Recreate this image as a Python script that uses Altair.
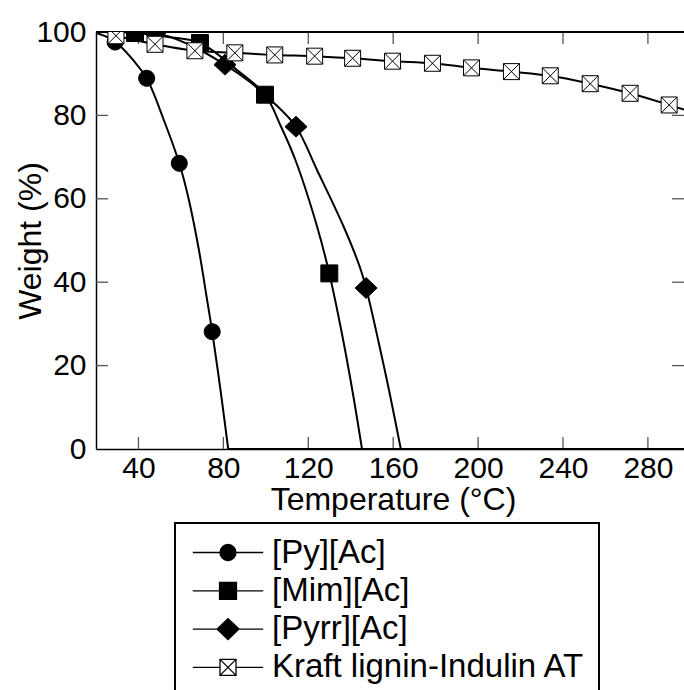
import altair as alt
import pandas as pd

FONT = "Liberation Sans"

series_names = ["[Py][Ac]", "[Mim][Ac]", "[Pyrr][Ac]", "Kraft lignin-Indulin AT"]

# ---- fitted curves ----
py_curve_T = [20, 25.65, 31.31, 37.43, 43.88, 51.94, 59.24, 63.76, 68.48, 72.34, 74.74, 78.65, 82.28]
py_curve_W = [99.76, 98.68, 96.64, 93.29, 88.90, 78.90, 68.51, 59.71, 47.72, 35.73, 28.13, 14.15, 0]

mim_curve_T = [20, 38.37, 53.92, 68.99, 86.42, 99.61, 107.25, 113.94, 124.21, 129.91, 135.52, 140.74, 145.31]
mim_curve_W = [100, 99.76, 98.8, 97.36, 90.89, 84.96, 77.22, 69.30, 53.24, 42.11, 28.54, 14.15, 0]

pyrr_curve_T = [20, 47.79, 64.28, 80.77, 92.55, 103.38, 114.22, 124.11, 136.74, 144.28, 147.24, 153.23, 158.31, 163.59]
pyrr_curve_W = [100, 99.8, 96.88, 92.16, 88.01, 83.21, 77.29, 66.91, 53.24, 43.65, 38.61, 25.42, 13.43, 0]

# zero-weight plateau after full decomposition
plateau_start_T = [82.28, 145.31, 163.59]
plateau_end_T = 297

# ---- measured points ----
py_T = [29.0, 43.88, 59.24, 74.74]
py_W = [97.6, 88.90, 68.51, 28.13]

mim_T = [38.37, 68.99, 99.61, 129.91]
mim_W = [99.76, 97.36, 84.96, 42.11]

pyrr_T = [47.79, 80.77, 114.22, 147.24]
pyrr_W = [99.8, 92.16, 77.29, 38.61]

kraft_T = [29.4, 47.8, 66.6, 85.4, 104.2, 123.0, 140.9, 159.7, 178.5, 196.9, 215.7, 234.0, 252.8, 271.6, 290.0]
kraft_W = [99.1, 97.05, 95.5, 95.0, 94.5, 94.2, 93.7, 93.0, 92.5, 91.4, 90.5, 89.5, 87.6, 85.3, 82.5]
kraft_line_end_T = 297
kraft_line_end_W = 81.4

x_ticks = [40, 80, 120, 160, 200, 240, 280]
y_labels = [0, 20, 40, 60, 80, 100]
y_ticks = [20, 40, 60, 80]

# ---- tables ----
rows = []
for name, T, W in [(series_names[0], py_curve_T, py_curve_W),
                   (series_names[1], mim_curve_T, mim_curve_W),
                   (series_names[2], pyrr_curve_T, pyrr_curve_W)]:
    for t, w in zip(T, W):
        rows.append({"T": t, "W": w, "seg": name + " fit"})
for name, t0 in zip(series_names[:3], plateau_start_T):
    rows.append({"T": t0, "W": 0, "seg": name + " zero"})
    rows.append({"T": plateau_end_T, "W": 0, "seg": name + " zero"})
for t, w in zip(kraft_T + [kraft_line_end_T], kraft_W + [kraft_line_end_W]):
    rows.append({"T": t, "W": w, "seg": "kraft"})
lines_df = pd.DataFrame(rows)

prow = []
for i, (name, T, W) in enumerate([(series_names[0], py_T, py_W), (series_names[1], mim_T, mim_W),
                                  (series_names[2], pyrr_T, pyrr_W), (series_names[3], kraft_T, kraft_W)]):
    for t, w in zip(T, W):
        prow.append({"T": t, "W": w, "series": name, "ord": i})
points_df = pd.DataFrame(prow)

xt_df = pd.DataFrame({"v": x_ticks})
yt_df = pd.DataFrame({"v": y_ticks})

W_PX, H_PX = 588, 417

xs = alt.Scale(domain=[20, 297], nice=False, zero=False)
ys = alt.Scale(domain=[0, 100], nice=False, zero=False)

x_axis = alt.Axis(values=x_ticks, title="Temperature (°C)", ticks=False, tickSize=0, grid=False,
                  domainColor="black", domainWidth=1.5, labelFontSize=30, labelFont=FONT,
                  labelColor="black", labelPadding=4, labelFlush=False,
                  titleFontSize=32, titleFont=FONT, titleFontWeight="normal", titleColor="black",
                  titleX=297, titleY=60, titleBaseline="alphabetic")
y_axis = alt.Axis(values=y_labels, title="Weight (%)", ticks=False, tickSize=0, grid=False,
                  domainColor="black", domainWidth=1.5, labelFontSize=30, labelFont=FONT,
                  labelColor="black", labelPadding=10, labelFlush=False,
                  titleFontSize=32, titleFont=FONT, titleFontWeight="normal", titleColor="black",
                  titleX=-56, titleY=208.5, titleBaseline="alphabetic")

X = lambda f: alt.X(f, scale=xs, axis=x_axis)
Y = lambda f: alt.Y(f, scale=ys, axis=y_axis)

circle = "M-1,0A1,1,0,1,1,1,0A1,1,0,1,1,-1,0Z"
square = "M-1.06,-1.06H1.06V1.06H-1.06Z"
diamond = "M-1.38,0L0,-1.3L1.38,0L0,1.3Z"
kraft = "M-1,-1H1V1H-1ZM-1,-1L1,1M-1,1L1,-1"
# shape scale uses the ascending (data-sorted) order of the series names
shape_sorted_range = [kraft, square, circle, diamond]
leg_line = "M-4.4,0H4.4"
legend_paths = [leg_line + circle, leg_line + square, leg_line + diamond,
                "M-4.4,0H-1M1,0H4.4" + kraft]
fills = ["black", "black", "black", "white"]

shape_expr = " : ".join(
    f"datum.value === '{n}' ? '{p}'" for n, p in zip(series_names[:3], legend_paths[:3])
) + f" : '{legend_paths[3]}'"

legend = alt.Legend(
    title=None, orient="none", legendX=79, legendY=491,
    labelFont=FONT, labelFontSize=33, labelColor="black", labelLimit=0,
    symbolSize=256, symbolOffset=23.5, labelOffset=27.5, rowPadding=4.3, padding=13,
    strokeColor="black", symbolType={"expr": shape_expr},
    symbolStrokeColor="black", symbolStrokeWidth=1.3, symbolOpacity=1,
)

lines = alt.Chart(lines_df).mark_line(interpolate="catmull-rom", color="black", strokeWidth=2,
                                      clip=True).encode(
    x=X("T:Q"), y=Y("W:Q"), detail="seg:N")

points = alt.Chart(points_df).mark_point(filled=True, size=256, opacity=1, stroke="black",
                                         strokeWidth=1, clip=True).encode(
    x=X("T:Q"), y=Y("W:Q"),
    shape=alt.Shape("series:N", sort="ascending", scale=alt.Scale(range=shape_sorted_range), legend=None),
    fill=alt.Fill("series:N", scale=alt.Scale(domain=series_names, range=fills), legend=legend),
    order=alt.Order("ord:Q"),
)

tick_color = "#555555"
bottom_ticks = alt.Chart(xt_df).mark_rule(color=tick_color, strokeWidth=1.3).encode(
    x=X("v:Q"), y=alt.value(H_PX), y2=alt.value(H_PX - 12))
top_ticks = alt.Chart(xt_df).mark_rule(color=tick_color, strokeWidth=1.3).encode(
    x=X("v:Q"), y=alt.value(0), y2=alt.value(12))
left_ticks = alt.Chart(yt_df).mark_rule(color=tick_color, strokeWidth=1.3).encode(
    y=Y("v:Q"), x=alt.value(0), x2=alt.value(12))
right_ticks = alt.Chart(yt_df).mark_rule(color=tick_color, strokeWidth=1.3).encode(
    y=Y("v:Q"), x=alt.value(W_PX - 12), x2=alt.value(W_PX))
top_border = alt.Chart(xt_df).mark_rule(color="black", strokeWidth=1.5).encode(
    x=alt.value(0), x2=alt.value(W_PX), y=alt.value(0))

chart = alt.layer(
    bottom_ticks, top_ticks, left_ticks, right_ticks, top_border, lines, points
).properties(
    width=W_PX, height=H_PX,
    autosize=alt.AutoSizeParams(type="none"),
    padding={"left": 96, "top": 32, "right": 0, "bottom": 241},
    background="white",
).configure_view(stroke=None).configure_legend(strokeWidth=2)

chart.save("out.html", embed_options={"renderer": "svg", "actions": False})
